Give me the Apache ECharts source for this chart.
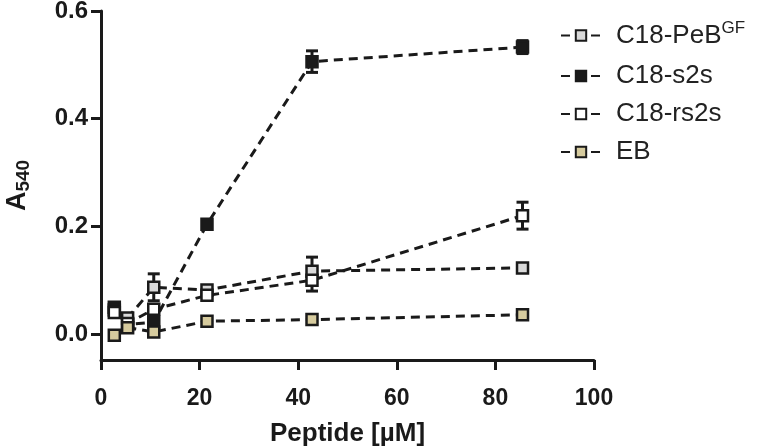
<!DOCTYPE html>
<html>
<head>
<meta charset="utf-8">
<script src="https://cdn.jsdelivr.net/npm/echarts@6/dist/echarts.min.js"></script>
<style>
  html, body { margin: 0; padding: 0; background: #fff; }
  #assay { width: 766px; height: 446px; }
</style>
</head>
<body>
<div id="assay"></div>
<script>
// peptide concentration, as placed in the picture
var conc = [2.7, 5.4, 10.7, 21.5, 42.8, 85.5];

var pebMean  = [0.045, 0.030, 0.087, 0.082, 0.117, 0.123];
var pebErr   = [0.004, 0.004, 0.025, 0.006, 0.026, 0.006];
var s2sMean  = [0.050, 0.018, 0.022, 0.204, 0.506, 0.533];
var s2sErr   = [0.006, 0.005, 0.006, 0.006, 0.020, 0.012];
var rs2sMean = [0.040, 0.020, 0.046, 0.072, 0.100, 0.220];
var rs2sErr  = [0.004, 0.004, 0.006, 0.006, 0.020, 0.025];
var ebMean   = [-0.002, 0.012, 0.004, 0.024, 0.027, 0.036];
var ebErr    = [0.003, 0.003, 0.003, 0.003, 0.003, 0.003];

var yTicks = [0, 0.2, 0.4, 0.6];

var FONT = "'Liberation Sans', Arial, sans-serif";
var INK = '#1a1a1a';

function getChart(id){
    var dom = document.getElementById(id);
    return echarts.init(dom, null, {renderer: 'canvas'});
}

function pairs(means){
    var out = [];
    for (var i = 0; i < conc.length; i++) {
        out.push([conc[i], means[i]]);
    }
    return out;
}

function bars(means, errs){
    var out = [];
    for (var i = 0; i < conc.length; i++) {
        out.push([conc[i], means[i] - errs[i], means[i] + errs[i]]);
    }
    return out;
}

function errorSeries(name, means, errs){
    return {
        name: name,
        type: 'custom',
        z: 1,
        data: bars(means, errs),
        renderItem: function (params, api) {
            var lo = api.coord([api.value(0), api.value(1)]);
            var hi = api.coord([api.value(0), api.value(2)]);
            var w = 6;
            var st = {stroke: INK, lineWidth: 3};
            return {
                type: 'group',
                children: [
                    {type: 'line', shape: {x1: lo[0], y1: lo[1], x2: hi[0], y2: hi[1]}, style: st},
                    {type: 'line', shape: {x1: hi[0] - w, y1: hi[1], x2: hi[0] + w, y2: hi[1]}, style: st},
                    {type: 'line', shape: {x1: lo[0] - w, y1: lo[1], x2: lo[0] + w, y2: lo[1]}, style: st}
                ]
            };
        }
    };
}

function lineSeries(name, means, fill, z){
    return {
        name: name,
        type: 'line',
        z: z,
        data: pairs(means),
        symbol: 'rect',
        symbolSize: 11,
        showAllSymbol: true,
        lineStyle: {color: INK, width: 3, type: [9, 6]},
        itemStyle: {color: fill, borderColor: INK, borderWidth: 2.5},
        emphasis: {disabled: true}
    };
}

(function() {
    "use strict";
    var assay = getChart("assay");

    var option = {
        backgroundColor: '#fff',
        animation: false,
        grid: {left: 101, right: 172, top: 11, bottom: 86, outerBoundsMode: 'none', containLabel: false},
        legend: {
            orient: 'vertical',
            left: 555,
            top: 15,
            itemWidth: 40,
            itemHeight: 13,
            itemGap: 12,
            data: ['C18-PeBGF', 'C18-s2s', 'C18-rs2s', 'EB'],
            formatter: function (name) {
                if (name === 'C18-PeBGF') {
                    return '{n|C18-PeB}{sup|GF}';
                }
                return '{n|' + name + '}';
            },
            textStyle: {
                padding: [0, 0, 0, 10],
                rich: {
                    n: {fontFamily: FONT, fontSize: 26, color: '#222', lineHeight: 28},
                    sup: {fontFamily: FONT, fontSize: 17, color: '#222', lineHeight: 28, padding: [0, 0, 14, 0]}
                }
            }
        },
        xAxis: {
            type: 'value',
            min: 0,
            max: 100,
            interval: 20,
            name: 'Peptide [µM]',
            nameLocation: 'middle',
            nameGap: 61,
            nameTextStyle: {fontFamily: FONT, fontSize: 26, fontWeight: 'bold', color: INK},
            axisLine: {show: true, onZero: false, lineStyle: {color: INK, width: 3}},
            axisTick: {show: true, length: 10, lineStyle: {color: INK, width: 3}},
            axisLabel: {margin: 27, fontFamily: FONT, fontSize: 23, fontWeight: 'bold', color: INK},
            splitLine: {show: false}
        },
        yAxis: {
            type: 'value',
            min: -0.048,
            max: 0.6,
            name: '{a|A}{sub|540}',
            nameLocation: 'middle',
            nameRotate: 90,
            nameGap: 68,
            nameTextStyle: {
                rich: {
                    a: {fontFamily: FONT, fontSize: 27, fontWeight: 'bold', color: INK},
                    sub: {fontFamily: FONT, fontSize: 19, fontWeight: 'bold', color: INK, padding: [12, 0, 0, 0]}
                }
            },
            axisLine: {show: true, onZero: false, lineStyle: {color: INK, width: 3}},
            axisTick: {show: true, length: 10, customValues: yTicks, lineStyle: {color: INK, width: 3}},
            axisLabel: {
                margin: 13,
                customValues: yTicks,
                fontFamily: FONT, fontSize: 24, fontWeight: 'bold', color: INK,
                formatter: function (v) { return v.toFixed(1); }
            },
            splitLine: {show: false}
        },
        series: [
            errorSeries('err-peb', pebMean, pebErr),
            errorSeries('err-s2s', s2sMean, s2sErr),
            errorSeries('err-rs2s', rs2sMean, rs2sErr),
            errorSeries('err-eb', ebMean, ebErr),
            lineSeries('C18-PeBGF', pebMean, '#d9d9d9', 2),
            lineSeries('C18-s2s', s2sMean, INK, 3),
            lineSeries('C18-rs2s', rs2sMean, '#ffffff', 4),
            lineSeries('EB', ebMean, '#d6cb9e', 5)
        ]
    };

    if (option && typeof option === "object") {
        assay.setOption(option, true);
    }
    window.addEventListener('resize', function(){
        assay.resize();
    });
})();
</script>
</body>
</html>
